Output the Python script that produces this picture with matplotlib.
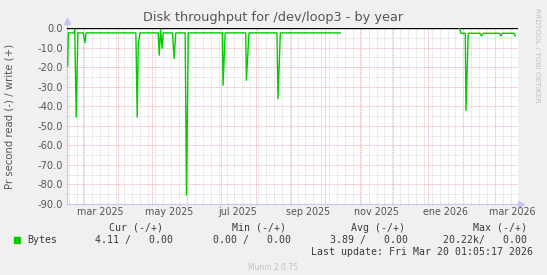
import numpy as np
import matplotlib
matplotlib.use("Agg")
import matplotlib.pyplot as plt
import matplotlib.dates as mdates

plt.rcParams['axes.unicode_minus'] = False

# days counted from 2025-03-01, read values (shown as negative)
day0 = np.datetime64('2025-03-01T00:00')
read_days = [-13.9, -13.2, -8.2, -7.6, -6.3, -4.8, 0.0, 1.5, 2.4,
             46.6, 47.8, 48.7, 50.2, 66.4, 67.3, 68.5, 69.9, 70.8,
             79.1, 80.5, 82.0, 90.3, 91.5, 93.1, 123.4, 123.9, 125.8,
             144.0, 144.6, 146.9, 171.7, 172.6, 174.7, 227.8, 228.0,
             333.4, 334.9, 338.7, 339.3, 341.3, 351.7, 353.1, 354.6,
             368.8, 370.3, 371.4, 382.0, 383.0]
read_vals = [-19.4, -2.5, -2.5, -0.7, -45.6, -2.5, -2.5, -7.5, -2.5,
             -2.5, -45.6, -8.4, -2.5, -2.5, -13.9, -0.7, -10.4, -2.5,
             -2.5, -15.6, -2.5, -2.5, -85.5, -2.5, -2.5, -29.3, -2.5,
             -2.5, -26.7, -2.5, -2.5, -36.2, -2.5, -2.5, np.nan,
             0.0, -2.7, -2.7, -42.2, -2.7, -2.7, -4.1, -2.7,
             -2.7, -4.1, -2.7, -2.7, -4.1]

x_start = np.datetime64('2025-02-14T13:00')
x_end = np.datetime64('2026-03-21T10:00')

xtick_pos = ['2025-03-16', '2025-05-16', '2025-07-16', '2025-09-16',
             '2025-11-16', '2026-01-16', '2026-03-16']
xtick_labels = ['mar 2025', 'may 2025', 'jul 2025', 'sep 2025',
                'nov 2025', 'ene 2026', 'mar 2026']

legend_name = 'Bytes'
col_heads = ['Cur (-/+)', 'Min (-/+)', 'Avg (-/+)', 'Max (-/+)']
col_vals = ['4.11 /   0.00', '0.00 /   0.00', '3.89 /   0.00', '20.22k/   0.00']
last_update = 'Last update: Fri Mar 20 01:05:17 2026'

green = '#00cc00'
txt = '#555555'
mono = '#3a3a3a'
axcol = '#c8c8f0'

W, H = 547, 275
fig = plt.figure(figsize=(W / 100, H / 100), dpi=100, facecolor='#f0f0f0')
L, R, T, B = 67, 518, 28, 204
ax = fig.add_axes([L / W, 1 - B / H, (R - L) / W, (B - T) / H])
ax.set_facecolor('white')

t = day0 + (np.array(read_days) * 24 * 60).astype('timedelta64[m]')
ax.plot(t, read_vals, color=green, lw=1.0, zorder=5)
ax.axhline(0, color='black', lw=1.0, zorder=4)

ax.set_xlim(x_start, x_end)
ax.set_ylim(-90, 0)

# grid
ax.xaxis.set_major_locator(mdates.MonthLocator())
ax.xaxis.set_minor_locator(mdates.WeekdayLocator(byweekday=mdates.SU))
ax.xaxis.set_major_formatter(plt.NullFormatter())
ax.set_yticks(np.arange(-90, 1, 10))
ax.set_yticks(np.arange(-85, 0, 10), minor=True)
ax.yaxis.set_major_formatter(plt.FuncFormatter(lambda v, p: '%.1f' % v))
ax.grid(which='minor', color='#d4d4d4', ls=(0, (1, 1)), lw=0.6, zorder=1)
ax.grid(which='major', color='#e8a0a0', ls=(0, (1, 1)), lw=0.6, zorder=2)
ax.tick_params(which='both', length=2, width=0.6, direction='inout', colors=axcol,
               labelcolor=txt, labelsize=7.1, pad=2)
ax.tick_params(which='minor', length=1.5)

for s in ['top', 'right']:
    ax.spines[s].set_visible(False)
for s in ['left', 'bottom']:
    ax.spines[s].set_color(axcol)
    ax.spines[s].set_linewidth(0.8)

# arrows at axis ends
ax.plot([0, 0], [1.0, 1.03], transform=ax.transAxes, color=axcol, lw=0.8, clip_on=False)
ax.plot([0], [1.04], marker='^', ms=5, color='#c4c4f4', transform=ax.transAxes,
        clip_on=False)
ax.plot([0.995, 1.0], [0, 0], transform=ax.transAxes, color=axcol, lw=0.8, clip_on=False)
ax.plot([1.007], [0], marker='>', ms=5, color='#c4c4f4', transform=ax.transAxes,
        clip_on=False)

xt = ax.get_xaxis_transform()
for p, lab in zip(xtick_pos, xtick_labels):
    ax.text(np.datetime64(p), -0.045, lab, transform=xt, ha='center', va='center',
            fontsize=6.9, color=txt)

fig.text(273.5 / W, 1 - 18 / H, 'Disk throughput for /dev/loop3 - by year',
         ha='center', va='center', fontsize=9.3, color=txt)
fig.text(10 / W, 1 - 116 / H, 'Pr second read (-) / write (+)', rotation=90,
         ha='center', va='center', fontsize=7.3, color=txt)
fig.text(537 / W, 1 - 55 / H, 'RRDTOOL / TOBI OETIKER', rotation=270,
         ha='center', va='center', fontsize=5.3, color='#c0c0c0')
fig.text(273.5 / W, 1 - 267 / H, 'Munin 2.0.75', ha='center', va='center',
         fontsize=5.5, color='#c0c0c0')

# legend block
fig.patches.append(plt.Rectangle((14 / W, 1 - 243 / H), 6 / W, 6 / H,
                                 transform=fig.transFigure, color=green))
fig.text(27 / W, 1 - 240 / H, legend_name, ha='left', va='center',
         family='DejaVu Sans Mono', fontsize=7.1, color=mono)
head_right = [163, 285.5, 405, 526.7]
val_right = [173.3, 291, 408.3, 526.7]
for h, hx in zip(col_heads, head_right):
    fig.text(hx / W, 1 - 228 / H, h, ha='right', va='center',
             family='DejaVu Sans Mono', fontsize=7.1, color=mono)
for v, vx in zip(col_vals, val_right):
    fig.text(vx / W, 1 - 240 / H, v, ha='right', va='center',
             family='DejaVu Sans Mono', fontsize=7.1, color=mono)
fig.text(532.7 / W, 1 - 252 / H, last_update, ha='right', va='center',
         family='DejaVu Sans Mono', fontsize=7.1, color=mono)

fig.savefig('out.png', dpi=100, facecolor=fig.get_facecolor())
